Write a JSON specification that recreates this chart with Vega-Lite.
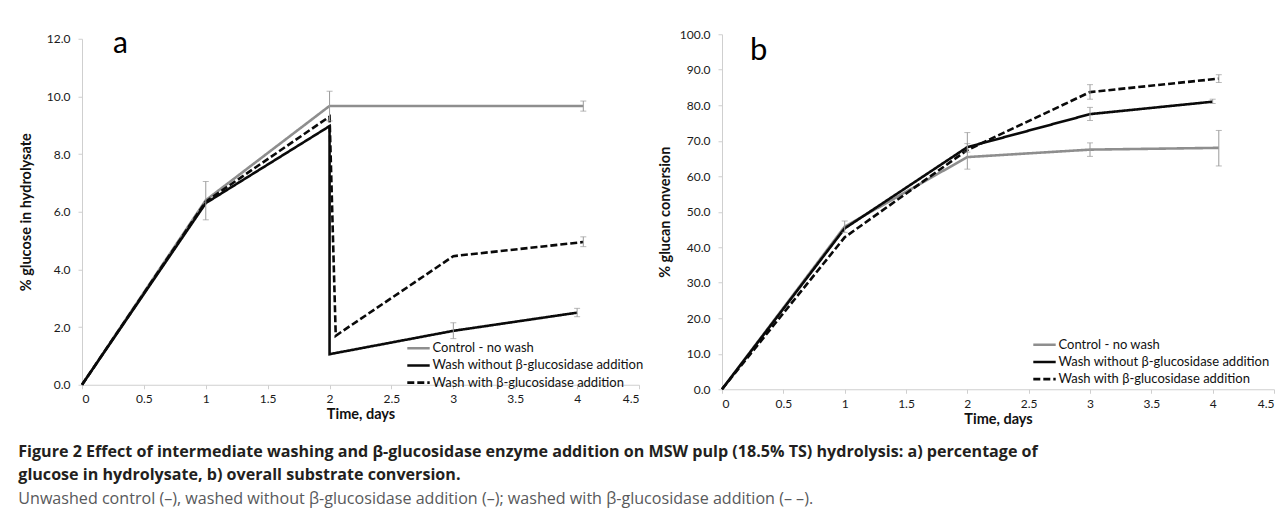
{
  "$schema": "https://vega.github.io/schema/vega-lite/v6.json",
  "padding": {"left": 18, "top": 28, "right": 3, "bottom": 5},
  "background": "white",
  "datasets": {
    "a_lines": [
      {"s": "Control - no wash", "d": 0, "v": 0, "o": 0},
      {"s": "Control - no wash", "d": 1, "v": 6.4, "o": 1},
      {"s": "Control - no wash", "d": 2, "v": 9.67, "o": 2},
      {"s": "Control - no wash", "d": 4.05, "v": 9.67, "o": 3},
      {"s": "Wash without β-glucosidase addition", "d": 0, "v": 0, "o": 0},
      {"s": "Wash without β-glucosidase addition", "d": 1, "v": 6.3, "o": 1},
      {"s": "Wash without β-glucosidase addition", "d": 2, "v": 8.97, "o": 2},
      {"s": "Wash without β-glucosidase addition", "d": 2, "v": 1.06, "o": 3},
      {"s": "Wash without β-glucosidase addition", "d": 3, "v": 1.87, "o": 4},
      {"s": "Wash without β-glucosidase addition", "d": 4, "v": 2.5, "o": 5},
      {"s": "Wash with β-glucosidase addition", "d": 0, "v": 0, "o": 0},
      {"s": "Wash with β-glucosidase addition", "d": 1, "v": 6.35, "o": 1},
      {"s": "Wash with β-glucosidase addition", "d": 2, "v": 9.3, "o": 2},
      {"s": "Wash with β-glucosidase addition", "d": 2.05, "v": 1.7, "o": 3},
      {"s": "Wash with β-glucosidase addition", "d": 3, "v": 4.46, "o": 4},
      {"s": "Wash with β-glucosidase addition", "d": 4.05, "v": 4.95, "o": 5}
    ],
    "a_err": [
      {"s": "Control - no wash", "d": 1, "lo": 5.72, "hi": 7.05},
      {"s": "Control - no wash", "d": 2, "lo": 9.15, "hi": 10.18},
      {"s": "Control - no wash", "d": 4.05, "lo": 9.49, "hi": 9.84},
      {"s": "Wash without β-glucosidase addition", "d": 3, "lo": 1.6, "hi": 2.15},
      {"s": "Wash without β-glucosidase addition", "d": 4, "lo": 2.36, "hi": 2.65},
      {"s": "Wash with β-glucosidase addition", "d": 4.05, "lo": 4.79, "hi": 5.13}
    ],
    "b_lines": [
      {"s": "Control - no wash", "d": 0, "v": 0, "o": 0},
      {"s": "Control - no wash", "d": 1, "v": 45.8, "o": 1},
      {"s": "Control - no wash", "d": 2, "v": 65.4, "o": 2},
      {"s": "Control - no wash", "d": 3, "v": 67.5, "o": 3},
      {"s": "Control - no wash", "d": 4.05, "v": 68, "o": 4},
      {"s": "Wash without β-glucosidase addition", "d": 0, "v": 0, "o": 0},
      {"s": "Wash without β-glucosidase addition", "d": 1, "v": 45.3, "o": 1},
      {"s": "Wash without β-glucosidase addition", "d": 2, "v": 68.2, "o": 2},
      {"s": "Wash without β-glucosidase addition", "d": 3, "v": 77.5, "o": 3},
      {"s": "Wash without β-glucosidase addition", "d": 4, "v": 81, "o": 4},
      {"s": "Wash with β-glucosidase addition", "d": 0, "v": 0, "o": 0},
      {"s": "Wash with β-glucosidase addition", "d": 1, "v": 42.8, "o": 1},
      {"s": "Wash with β-glucosidase addition", "d": 2, "v": 67.4, "o": 2},
      {"s": "Wash with β-glucosidase addition", "d": 3, "v": 83.7, "o": 3},
      {"s": "Wash with β-glucosidase addition", "d": 4.05, "v": 87.5, "o": 4}
    ],
    "b_err": [
      {"s": "Control - no wash", "d": 1, "lo": 44.2, "hi": 47.4},
      {"s": "Control - no wash", "d": 2, "lo": 62.0, "hi": 72.3},
      {"s": "Control - no wash", "d": 3, "lo": 65.6, "hi": 69.4},
      {"s": "Control - no wash", "d": 4.05, "lo": 62.9, "hi": 72.9},
      {"s": "Wash without β-glucosidase addition", "d": 2, "lo": 66.8, "hi": 69.2},
      {"s": "Wash without β-glucosidase addition", "d": 3, "lo": 75.7, "hi": 79.4},
      {"s": "Wash without β-glucosidase addition", "d": 4, "lo": 80.5, "hi": 81.7},
      {"s": "Wash with β-glucosidase addition", "d": 3, "lo": 81.7, "hi": 85.8},
      {"s": "Wash with β-glucosidase addition", "d": 4.05, "lo": 86.4, "hi": 88.6}
    ],
    "a_label": [{"t": "a", "d": 0.31, "v": 11.5}],
    "b_label": [{"t": "b", "d": 0.3, "v": 92.7}]
  },
  "title": {
    "text": ["Figure 2 Effect of intermediate washing and β-glucosidase enzyme addition on MSW pulp (18.5% TS) hydrolysis: a) percentage of", "glucose in hydrolysate, b) overall substrate conversion."],
    "subtitle": "Unwashed control (–), washed without β-glucosidase addition (–); washed with β-glucosidase addition (– –).",
    "orient": "bottom",
    "anchor": "start",
    "frame": "bounds",
    "offset": 18,
    "dx": 0,
    "font": "Open Sans",
    "fontSize": 16.1,
    "fontWeight": "bold",
    "color": "#231f20",
    "lineHeight": 23.5,
    "subtitleFont": "Open Sans",
    "subtitleFontSize": 16.1,
    "subtitleColor": "#58595b",
    "subtitlePadding": 8
  },
  "hconcat": [
    {
      "width": 557,
      "height": 346,
      "encoding": {
        "x": {"field": "d", "type": "quantitative", "scale": {"domain": [0, 4.5], "nice": false}, "title": "Time, days",
              "axis": {"values": [0, 0.5, 1, 1.5, 2, 2.5, 3, 3.5, 4, 4.5], "format": "~g"}}
      },
      "layer": [
        {
          "data": {"name": "a_lines"},
          "mark": {"type": "line", "strokeWidth": 2.6},
          "encoding": {
            "y": {"field": "v", "type": "quantitative", "scale": {"domain": [0, 12], "nice": false}, "title": "% glucose in hydrolysate",
                  "axis": {"values": [0, 2, 4, 6, 8, 10, 12], "format": ".1f"}},
            "order": {"field": "o"},
            "color": {"field": "s", "type": "nominal", "title": null,
                      "scale": {"domain": ["Control - no wash", "Wash without β-glucosidase addition", "Wash with β-glucosidase addition"], "range": ["#8e8e8e", "#0a0a0a", "#0a0a0a"]},
                      "legend": {"orient": "none", "legendX": 328, "legendY": 301, "rowPadding": 1.2}},
            "strokeDash": {"field": "s", "type": "nominal", "title": null,
                      "scale": {"domain": ["Control - no wash", "Wash without β-glucosidase addition", "Wash with β-glucosidase addition"], "range": [[1, 0], [1, 0], [7, 3]]},
                      "legend": {"orient": "none", "legendX": 328, "legendY": 301, "rowPadding": 1.2}}
          }
        },
        {
          "data": {"name": "a_err"},
          "mark": {"type": "errorbar", "ticks": {"size": 6, "color": "#9a9a9a"}, "rule": {"color": "#9a9a9a", "strokeWidth": 1}, "color": "#9a9a9a"},
          "encoding": {
            "y": {"field": "lo", "type": "quantitative", "title": "% glucose in hydrolysate",
                  "axis": {"values": [0, 2, 4, 6, 8, 10, 12], "format": ".1f"}},
            "y2": {"field": "hi"}
          }
        },
        {
          "data": {"name": "a_label"},
          "mark": {"type": "text", "font": "Lato", "fontSize": 30, "align": "center", "baseline": "alphabetic", "color": "#000"},
          "encoding": {
            "y": {"field": "v", "type": "quantitative", "title": "% glucose in hydrolysate",
                  "axis": {"values": [0, 2, 4, 6, 8, 10, 12], "format": ".1f"}},
            "text": {"field": "t"}
          }
        }
      ]
    },
    {
      "width": 552,
      "height": 355,
      "encoding": {
        "x": {"field": "d", "type": "quantitative", "scale": {"domain": [0, 4.5], "nice": false}, "title": "Time, days",
              "axis": {"values": [0, 0.5, 1, 1.5, 2, 2.5, 3, 3.5, 4, 4.5], "format": "~g"}}
      },
      "layer": [
        {
          "data": {"name": "b_lines"},
          "mark": {"type": "line", "strokeWidth": 2.6},
          "encoding": {
            "y": {"field": "v", "type": "quantitative", "scale": {"domain": [0, 100], "nice": false}, "title": "% glucan conversion",
                  "axis": {"values": [0, 10, 20, 30, 40, 50, 60, 70, 80, 90, 100], "format": ".1f", "titlePadding": 7}},
            "order": {"field": "o"},
            "color": {"field": "s", "type": "nominal", "title": null,
                      "scale": {"domain": ["Control - no wash", "Wash without β-glucosidase addition", "Wash with β-glucosidase addition"], "range": ["#8e8e8e", "#0a0a0a", "#0a0a0a"]},
                      "legend": {"orient": "none", "legendX": 314, "legendY": 302, "rowPadding": 1.2}},
            "strokeDash": {"field": "s", "type": "nominal", "title": null,
                      "scale": {"domain": ["Control - no wash", "Wash without β-glucosidase addition", "Wash with β-glucosidase addition"], "range": [[1, 0], [1, 0], [7, 3]]},
                      "legend": {"orient": "none", "legendX": 314, "legendY": 302, "rowPadding": 1.2}}
          }
        },
        {
          "data": {"name": "b_err"},
          "mark": {"type": "errorbar", "ticks": {"size": 6, "color": "#9a9a9a"}, "rule": {"color": "#9a9a9a", "strokeWidth": 1}, "color": "#9a9a9a"},
          "encoding": {
            "y": {"field": "lo", "type": "quantitative", "title": "% glucan conversion",
                  "axis": {"values": [0, 10, 20, 30, 40, 50, 60, 70, 80, 90, 100], "format": ".1f", "titlePadding": 7}},
            "y2": {"field": "hi"}
          }
        },
        {
          "data": {"name": "b_label"},
          "mark": {"type": "text", "font": "Lato", "fontSize": 31, "align": "center", "baseline": "alphabetic", "color": "#000"},
          "encoding": {
            "y": {"field": "v", "type": "quantitative", "title": "% glucan conversion",
                  "axis": {"values": [0, 10, 20, 30, 40, 50, 60, 70, 80, 90, 100], "format": ".1f", "titlePadding": 7}},
            "text": {"field": "t"}
          }
        }
      ]
    }
  ],
  "spacing": 13,
  "center": true,
  "resolve": {
    "scale": {"y": "independent", "x": "independent", "color": "independent", "strokeDash": "independent"},
    "legend": {"color": "independent", "strokeDash": "independent"}
  },
  "config": {
    "view": {"stroke": null},
    "axis": {
      "grid": false,
      "domainColor": "#cfcfcf",
      "tickColor": "#cfcfcf",
      "tickSize": 4,
      "labelFont": "Lato",
      "labelFontSize": 12,
      "labelColor": "#1a1a1a",
      "titleFont": "Lato",
      "titleFontSize": 14.5,
      "titleFontWeight": "bold",
      "titleColor": "#111"
    },
    "axisX": {"labelPadding": 5, "titlePadding": 3},
    "axisY": {"labelPadding": 8, "titlePadding": 13},
    "legend": {
      "symbolType": "M-1.6,0H1.6",
      "symbolSize": 196,
      "symbolStrokeWidth": 2.6,
      "labelFont": "Lato",
      "labelFontSize": 13,
      "labelColor": "#111",
      "labelOffset": 5.5,
      "padding": 0,
      "labelLimit": 400
    }
  }
}
